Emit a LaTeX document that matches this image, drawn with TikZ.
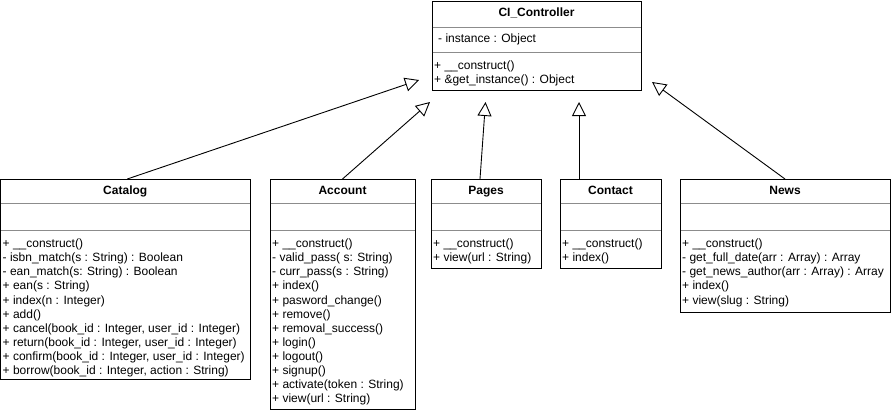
\documentclass[tikz,border=0pt]{standalone}
\usepackage{fontspec}
\setmainfont{Liberation Sans}
\usetikzlibrary{arrows.meta}

\tikzset{
  umlbox/.style={draw=black, line width=1pt, rectangle, anchor=north west,
    inner sep=0pt, outer sep=0pt},
  divider/.style={draw=black!45, line width=1pt},
  ctitle/.style={font=\fontsize{12}{14.1}\selectfont\bfseries, anchor=base, inner sep=0pt},
  members/.style={font=\fontsize{12}{14.1}\selectfont, anchor=north west,
    align=left, inner sep=0pt},
  attrline/.style={font=\fontsize{12}{14.1}\selectfont, anchor=base west, inner sep=0pt},
  inherit/.style={draw=black, line width=0.9pt,
    -{Triangle[fill=white, length=14pt, width=14pt, line width=0.9pt]}},
}

% draws the two compartment separators of a class box
\newcommand{\classrules}[3]{%
  \draw[divider] ([xshift=0.5pt,yshift=-#2]#1.north west) -- ([xshift=-0.5pt,yshift=-#2]#1.north east);
  \draw[divider] ([xshift=0.5pt,yshift=-#3]#1.north west) -- ([xshift=-0.5pt,yshift=-#3]#1.north east);
}

\begin{document}
\begin{tikzpicture}[x=1pt, y=-1pt]
\useasboundingbox (0,0) rectangle (891,410);

% ---- base class ----
\node[umlbox, minimum width=209pt, minimum height=89pt] (ci) at (432,1) {};
\classrules{ci}{26pt}{51pt}
\node[ctitle] (ci-title) at (536.5,16.5) {CI\_Controller};
\node[attrline] (ci-attr) at (438,42) {- instance : Object};
\node[members] (ci-ops) at (434,59.6) {\strut+ \_\_construct()\\+ \&get\_instance() : Object};

% ---- Catalog ----
\node[umlbox, minimum width=249.5pt, minimum height=200pt] (cat) at (0.5,179) {};
\classrules{cat}{24pt}{51pt}
\node[ctitle] (cat-title) at (125.25,194.3) {Catalog};
\node[members] (cat-ops) at (2.5,237.6) {\strut+ \_\_construct()\\
- isbn\_match(s : String) : Boolean\\
- ean\_match(s: String) : Boolean\\
+ ean(s : String)\\
+ index(n : Integer)\\
+ add()\\
+ cancel(book\_id : Integer, user\_id : Integer)\\
+ return(book\_id : Integer, user\_id : Integer)\\
+ confirm(book\_id : Integer, user\_id : Integer)\\
+ borrow(book\_id : Integer, action : String)};

% ---- Account ----
\node[umlbox, minimum width=145pt, minimum height=230pt] (acc) at (270,179) {};
\classrules{acc}{24pt}{51pt}
\node[ctitle] (acc-title) at (342.5,194.3) {Account};
\node[members] (acc-ops) at (272,237.6) {\strut+ \_\_construct()\\
- valid\_pass( s: String)\\
- curr\_pass(s : String)\\
+ index()\\
+ pasword\_change()\\
+ remove()\\
+ removal\_success()\\
+ login()\\
+ logout()\\
+ signup()\\
+ activate(token : String)\\
+ view(url : String)};

% ---- Pages ----
\node[umlbox, minimum width=110pt, minimum height=89pt] (pag) at (431,179) {};
\classrules{pag}{24pt}{51pt}
\node[ctitle] (pag-title) at (486,194.3) {Pages};
\node[members] (pag-ops) at (433,237.6) {\strut+ \_\_construct()\\+ view(url : String)};

% ---- Contact ----
\node[umlbox, minimum width=101pt, minimum height=89pt] (con) at (560,179) {};
\classrules{con}{24pt}{51pt}
\node[ctitle] (con-title) at (610.5,194.3) {Contact};
\node[members] (con-ops) at (562,237.6) {\strut+ \_\_construct()\\+ index()};

% ---- News ----
\node[umlbox, minimum width=210pt, minimum height=133pt] (news) at (680,179) {};
\classrules{news}{24pt}{51pt}
\node[ctitle] (news-title) at (785,194.3) {News};
\node[members] (news-ops) at (682,237.6) {\strut+ \_\_construct()\\
- get\_full\_date(arr : Array) : Array\\
- get\_news\_author(arr : Array) : Array\\
+ index()\\
+ view(slug : String)};

% ---- generalisations ----
\coordinate (tip-cat) at (419,80);
\coordinate (tip-acc) at (430,102);
\coordinate (tip-pag) at (485.5,102);
\coordinate (tip-con) at (579,102);
\coordinate (tip-news) at (652,82);

\draw[inherit] ([xshift=2pt]cat.north) -- (tip-cat);
\draw[inherit] (acc.north) -- (tip-acc);
\draw[inherit] ([xshift=-6pt]pag.north) -- (tip-pag);
\draw[inherit] ([xshift=-31.5pt]con.north) -- (tip-con);
\draw[inherit] (news.north) -- (tip-news);
\end{tikzpicture}
\end{document}
